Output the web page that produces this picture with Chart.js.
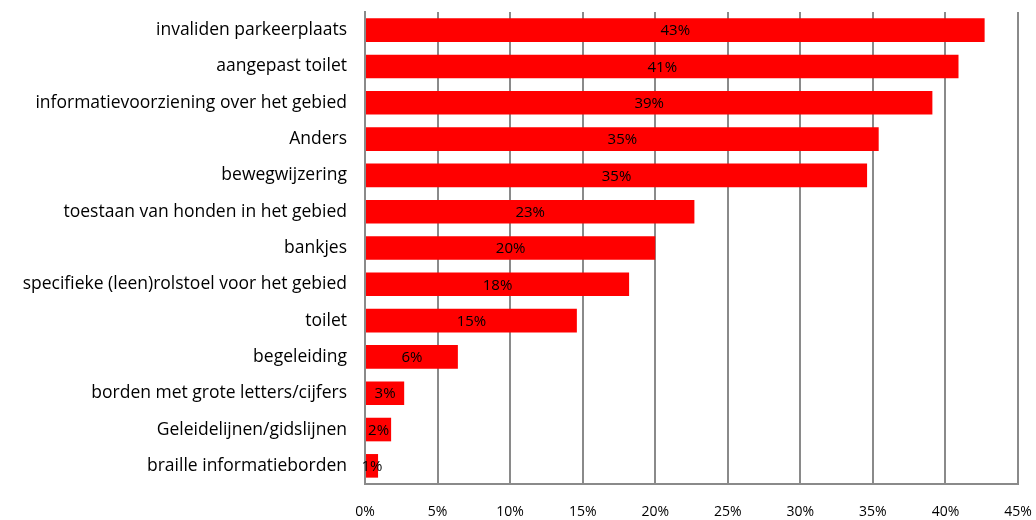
<!DOCTYPE html>
<html><head><meta charset="utf-8">
<script src="https://cdn.jsdelivr.net/npm/chart.js@4/dist/chart.umd.min.js"></script>
<style>html,body{margin:0;padding:0;background:#fff}#wrap{width:1036px;height:520px}</style>
</head><body><div id="wrap"><canvas id="c" width="1036" height="520"></canvas></div>
<script>
const categories = ["invaliden parkeerplaats","aangepast toilet","informatievoorziening over het gebied","Anders","bewegwijzering","toestaan van honden in het gebied","bankjes","specifieke (leen)rolstoel voor het gebied","toilet","begeleiding","borden met grote letters/cijfers","Geleidelijnen/gidslijnen","braille informatieborden"];
const values = [42.7, 40.9, 39.1, 35.4, 34.6, 22.7, 20.0, 18.2, 14.6, 6.4, 2.7, 1.8, 0.9];
const xTicks = [0,5,10,15,20,25,30,35,40,45];

const FONT = '"Open Sans", Lato, sans-serif';

const centerLabels = {
  id:'centerLabels',
  afterDatasetsDraw(chart){
    const ctx = chart.ctx;
    const meta = chart.getDatasetMeta(0);
    ctx.save();
    ctx.font = '15px ' + FONT;
    ctx.fillStyle = '#000';
    ctx.textAlign = 'center';
    ctx.textBaseline = 'middle';
    meta.data.forEach((bar,i)=>{
      const x = (bar.x + bar.base)/2;
      ctx.fillText(Math.round(values[i])+'%', x, bar.y+1);
    });
    ctx.restore();
  }
};

new Chart(document.getElementById('c'),{
  type:'bar',
  data:{labels:categories,datasets:[{data:values,backgroundColor:'#ff0000',borderWidth:0,barPercentage:0.65,categoryPercentage:1}]},
  options:{
    indexAxis:'y',responsive:false,animation:false,
    layout:{padding:{top:0,right:18,bottom:0,left:0}},
    plugins:{legend:{display:false},tooltip:{enabled:false}},
    scales:{
      x:{min:0,max:45,
        afterBuildTicks(s){s.ticks=xTicks.map(v=>({value:v}));},
        afterFit(s){s.height=36;s.paddingLeft=0;s.paddingRight=0;},
        grid:{color:'#8a8a8a',lineWidth:2,drawTicks:false},
        border:{color:'#8a8a8a',width:2},
        ticks:{padding:20,color:'#000',font:{family:FONT,size:14},callback:v=>v+'%',maxRotation:0}
      },
      y:{
        afterFit(s){s.width=365;s.paddingTop=12;s.paddingBottom=0;},
        grid:{display:false,drawTicks:false},
        border:{color:'#8a8a8a',width:2},
        ticks:{padding:18,color:'#000',font:{family:FONT,size:17.5}}
      }
    }
  },
  plugins:[centerLabels]
});
</script></body></html>
